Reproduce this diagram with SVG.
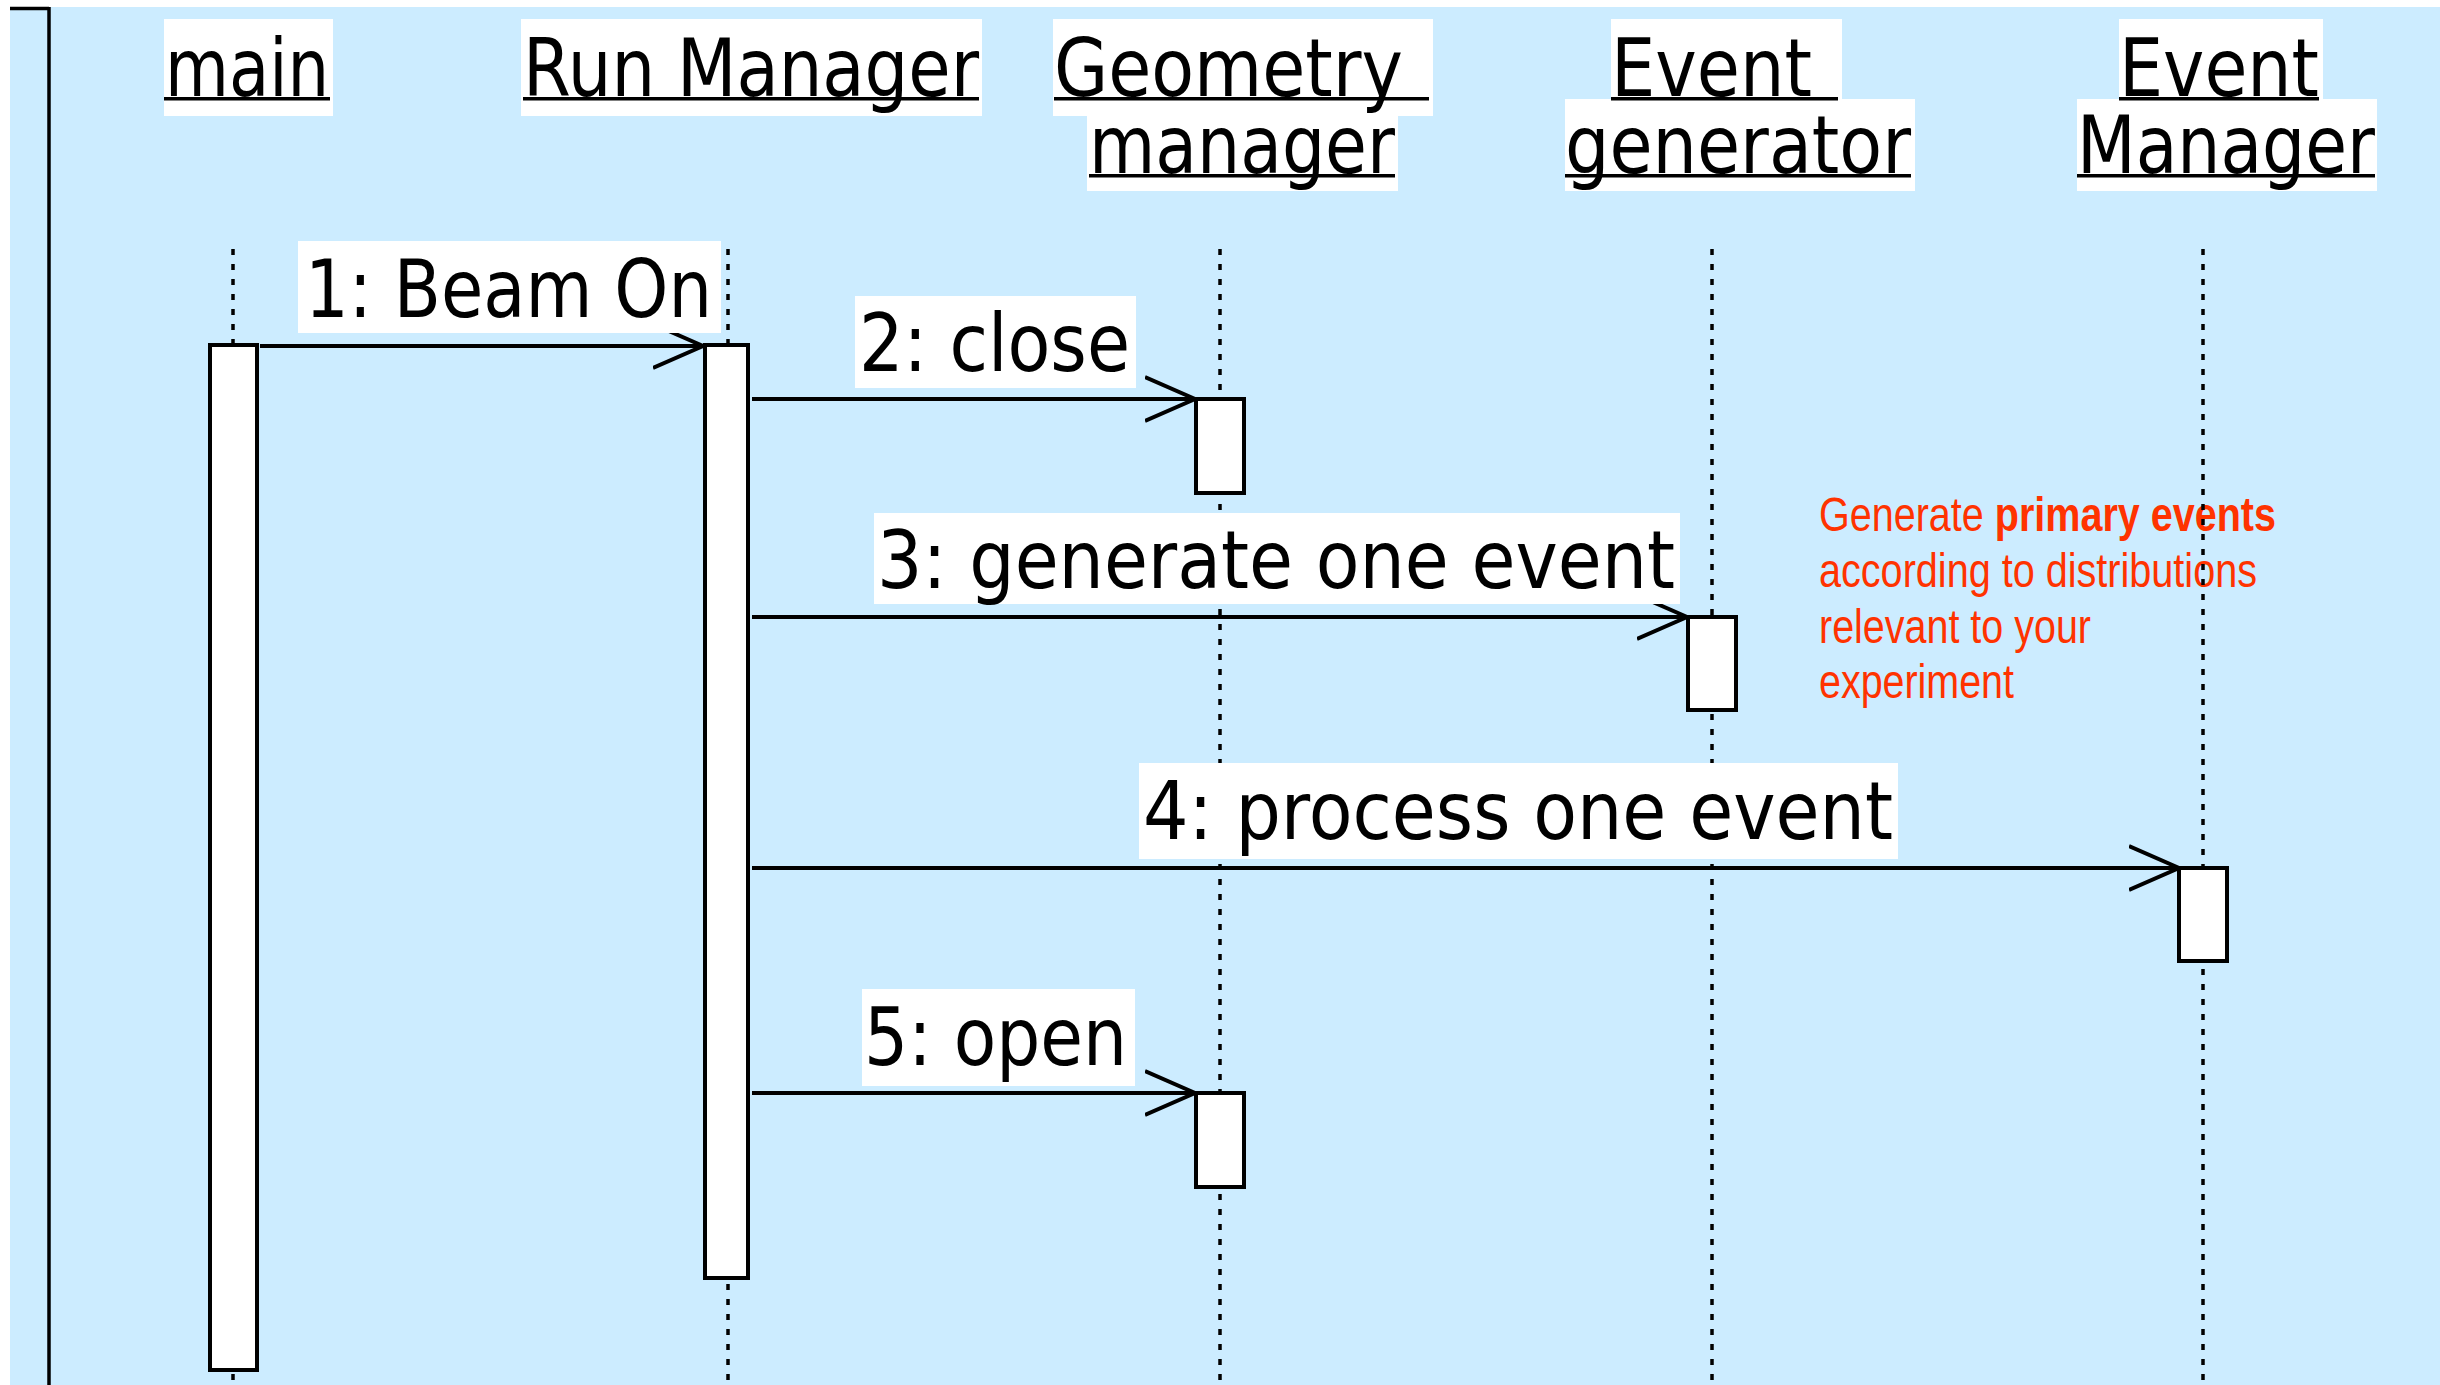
<svg xmlns="http://www.w3.org/2000/svg" width="2440" height="1385" viewBox="0 0 2440 1385">
<style>
.hdr{font-family:"DejaVu Sans","Liberation Sans",sans-serif;font-size:80px;fill:#000}
.msg{font-family:"DejaVu Sans","Liberation Sans",sans-serif;font-size:80px;fill:#000}
.lbl{fill:#fff;stroke:none}
.ul{fill:#000}
.life{stroke:#000;stroke-width:3.5;stroke-dasharray:6 9;fill:none}
.act{fill:#fff;stroke:#000;stroke-width:4}
.arr{stroke:#000;stroke-width:4;fill:none}
.note{font-family:"Liberation Sans",Arial,sans-serif;font-size:48px;fill:#ff3300}
</style>
<defs>
<marker id="open" markerUnits="userSpaceOnUse" markerWidth="60" markerHeight="60" refX="50" refY="25" orient="auto">
<path d="M0,3 L50,25 L0,47" fill="none" stroke="#000" stroke-width="4"/>
</marker>
</defs>
<rect x="10" y="7" width="2430" height="1378" fill="#ccecff"/>
<line x1="10" y1="8.5" x2="49" y2="8.5" stroke="#000" stroke-width="3.5"/>
<line x1="49" y1="7" x2="49" y2="1385" stroke="#000" stroke-width="3.5"/>

<g id="note">
<text class="note" x="1819" y="531" textLength="457" lengthAdjust="spacingAndGlyphs">Generate <tspan font-weight="bold">primary events</tspan></text>
<text class="note" x="1819" y="587" textLength="438" lengthAdjust="spacingAndGlyphs">according to distributions</text>
<text class="note" x="1819" y="643" textLength="272" lengthAdjust="spacingAndGlyphs">relevant to your</text>
<text class="note" x="1819" y="698" textLength="195" lengthAdjust="spacingAndGlyphs">experiment</text>
</g>

<g id="main">
<line class="life" x1="233" y1="249" x2="233" y2="1385"/>
<rect class="lbl" x="164" y="19" width="169" height="97"/>
<text class="hdr" x="165" y="96" textLength="164" lengthAdjust="spacingAndGlyphs">main</text>
<rect class="ul" x="164" y="97" width="166" height="3.5"/>
<rect class="act" x="210" y="345" width="47" height="1025"/>
</g>

<g id="run-manager">
<line class="life" x1="728" y1="249" x2="728" y2="1385"/>
<rect class="lbl" x="521" y="19" width="461" height="97"/>
<text class="hdr" x="523" y="96" textLength="456" lengthAdjust="spacingAndGlyphs">Run Manager</text>
<rect class="ul" x="523" y="97" width="456" height="3.5"/>
<rect class="act" x="705" y="345" width="43" height="933"/>
</g>

<g id="geometry-manager">
<line class="life" x1="1220" y1="249" x2="1220" y2="1385"/>
<rect class="lbl" x="1053" y="19" width="380" height="97"/>
<rect class="lbl" x="1087" y="116" width="311" height="75"/>
<text class="hdr" x="1054" y="96" textLength="349" lengthAdjust="spacingAndGlyphs">Geometry</text>
<rect class="ul" x="1054" y="97" width="375" height="3.5"/>
<text class="hdr" x="1089" y="173" textLength="306" lengthAdjust="spacingAndGlyphs">manager</text>
<rect class="ul" x="1089" y="174" width="306" height="3.5"/>
<rect class="act" x="1196" y="399" width="48" height="94"/>
<rect class="act" x="1196" y="1093" width="48" height="94"/>
</g>

<g id="event-generator">
<line class="life" x1="1712" y1="249" x2="1712" y2="1385"/>
<rect class="lbl" x="1611" y="19" width="231" height="80"/>
<rect class="lbl" x="1565" y="99" width="350" height="92"/>
<text class="hdr" x="1611" y="96" textLength="201" lengthAdjust="spacingAndGlyphs">Event</text>
<rect class="ul" x="1611" y="97" width="227" height="3.5"/>
<text class="hdr" x="1565" y="173" textLength="346" lengthAdjust="spacingAndGlyphs">generator</text>
<rect class="ul" x="1565" y="174" width="346" height="3.5"/>
<rect class="act" x="1688" y="617" width="48" height="93"/>
</g>

<g id="event-manager">
<line class="life" x1="2203" y1="249" x2="2203" y2="1385"/>
<rect class="lbl" x="2119" y="19" width="204" height="80"/>
<rect class="lbl" x="2077" y="99" width="300" height="92"/>
<text class="hdr" x="2119" y="96" textLength="200" lengthAdjust="spacingAndGlyphs">Event</text>
<rect class="ul" x="2119" y="97" width="200" height="3.5"/>
<text class="hdr" x="2077" y="173" textLength="298" lengthAdjust="spacingAndGlyphs">Manager</text>
<rect class="ul" x="2077" y="174" width="298" height="3.5"/>
<rect class="act" x="2179" y="868" width="48" height="93"/>
</g>

<g id="connectors">
<line class="arr" x1="260" y1="346" x2="703" y2="346" marker-end="url(#open)"/>
<line class="arr" x1="752" y1="399" x2="1195" y2="399" marker-end="url(#open)"/>
<line class="arr" x1="752" y1="617" x2="1687" y2="617" marker-end="url(#open)"/>
<line class="arr" x1="752" y1="868" x2="2179" y2="868" marker-end="url(#open)"/>
<line class="arr" x1="752" y1="1093" x2="1195" y2="1093" marker-end="url(#open)"/>
<rect class="lbl" x="298" y="241" width="423" height="92"/>
<text class="msg" x="305" y="317" textLength="407" lengthAdjust="spacingAndGlyphs">1: Beam On</text>
<rect class="lbl" x="855" y="296" width="281" height="92"/>
<text class="msg" x="859" y="371" textLength="271" lengthAdjust="spacingAndGlyphs">2: close</text>
<rect class="lbl" x="874" y="513" width="806" height="91"/>
<text class="msg" x="877" y="588" textLength="798" lengthAdjust="spacingAndGlyphs">3: generate one event</text>
<rect class="lbl" x="1139" y="763" width="759" height="96"/>
<text class="msg" x="1143" y="839" textLength="750" lengthAdjust="spacingAndGlyphs">4: process one event</text>
<rect class="lbl" x="862" y="989" width="273" height="97"/>
<text class="msg" x="864" y="1065" textLength="263" lengthAdjust="spacingAndGlyphs">5: open</text>
</g>
</svg>
